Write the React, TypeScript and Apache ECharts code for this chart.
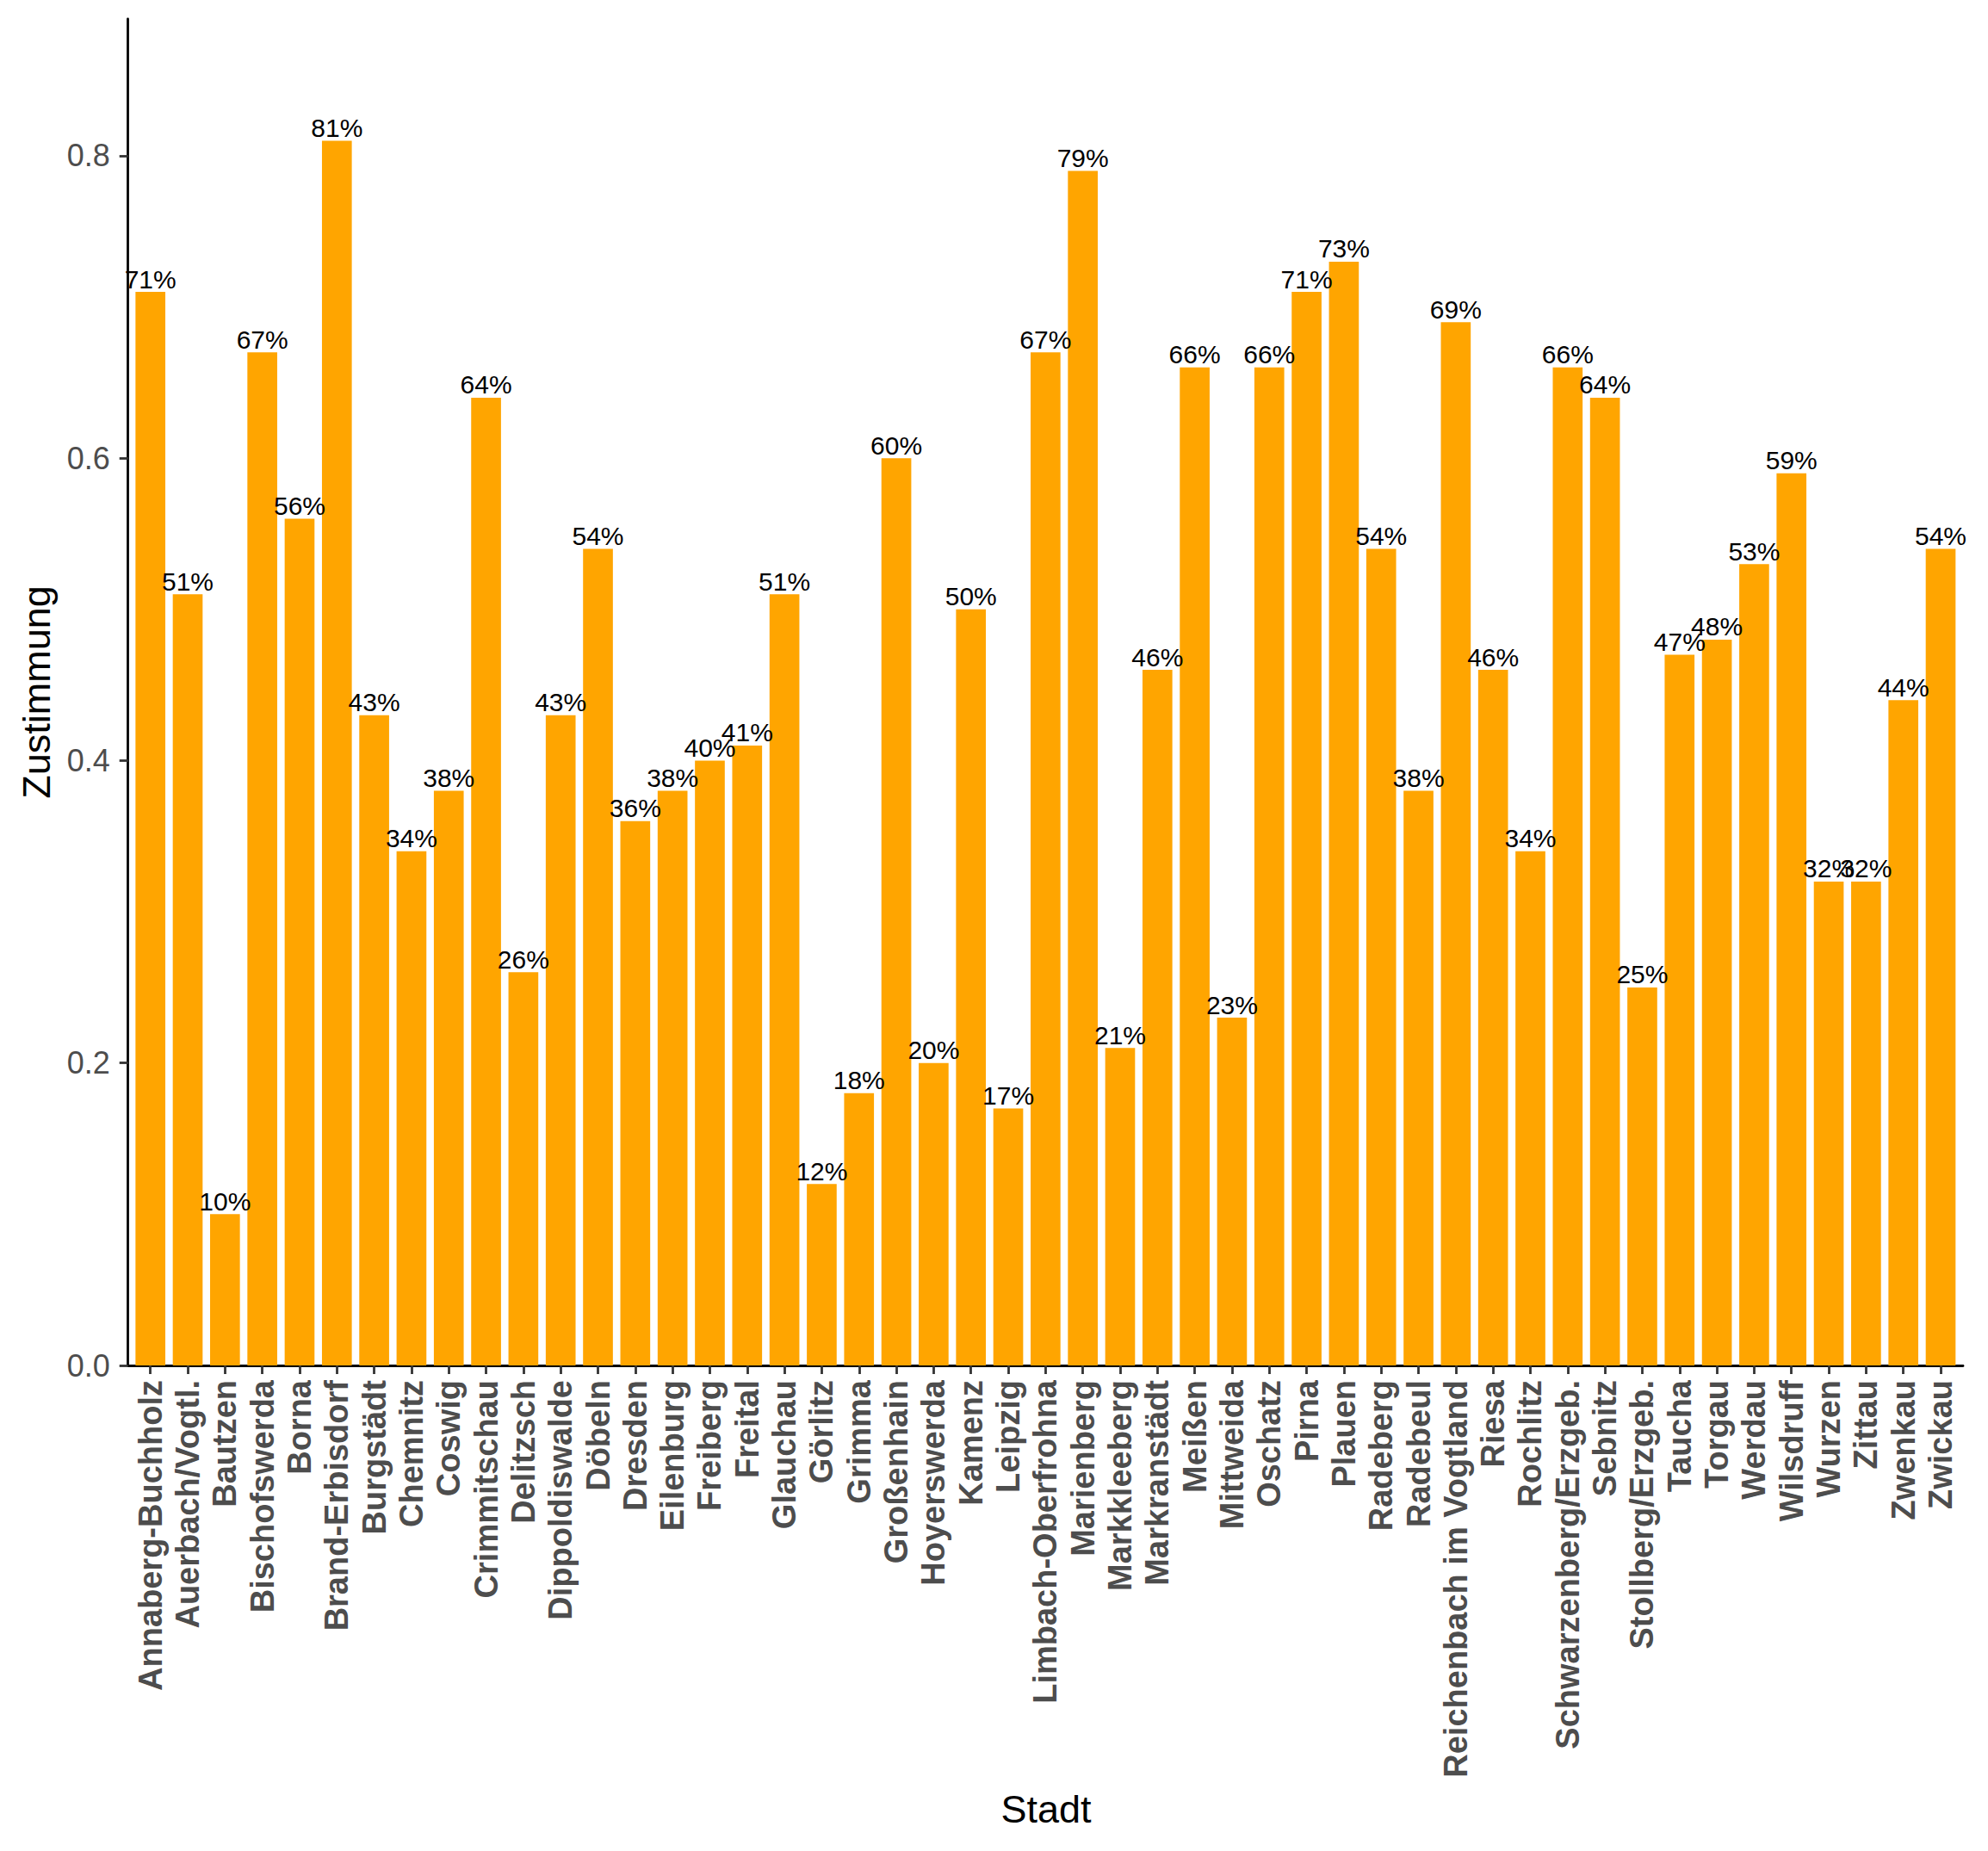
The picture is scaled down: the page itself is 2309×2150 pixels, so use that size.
import React, { useEffect, useRef } from "react";
import * as echarts from "echarts";

const cities: string[] = [
  "Annaberg-Buchholz", "Auerbach/Vogtl.", "Bautzen", "Bischofswerda", "Borna",
  "Brand-Erbisdorf", "Burgstädt", "Chemnitz", "Coswig", "Crimmitschau",
  "Delitzsch", "Dippoldiswalde", "Döbeln", "Dresden", "Eilenburg",
  "Freiberg", "Freital", "Glauchau", "Görlitz", "Grimma",
  "Großenhain", "Hoyerswerda", "Kamenz", "Leipzig", "Limbach-Oberfrohna",
  "Marienberg", "Markkleeberg", "Markranstädt", "Meißen", "Mittweida",
  "Oschatz", "Pirna", "Plauen", "Radeberg", "Radebeul",
  "Reichenbach im Vogtland", "Riesa", "Rochlitz", "Schwarzenberg/Erzgeb.", "Sebnitz",
  "Stollberg/Erzgeb.", "Taucha", "Torgau", "Werdau", "Wilsdruff",
  "Wurzen", "Zittau", "Zwenkau", "Zwickau",
];

const zustimmungPct: number[] = [
  71, 51, 10, 67, 56,
  81, 43, 34, 38, 64,
  26, 43, 54, 36, 38,
  40, 41, 51, 12, 18,
  60, 20, 50, 17, 67,
  79, 21, 46, 66, 23,
  66, 71, 73, 54, 38,
  69, 46, 34, 66, 64,
  25, 47, 48, 53, 59,
  32, 32, 44, 54,
];

const yTicks: number[] = [0, 0.2, 0.4, 0.6, 0.8];
const yMax = 0.8905;

const FONT = "'Liberation Sans', Arial, sans-serif";

export default function App() {
  const ref = useRef<HTMLDivElement>(null);

  useEffect(() => {
    document.body.style.margin = "0";
    if (!ref.current) return;
    const chart = echarts.init(ref.current, null, { renderer: "svg" });
    const positions = cities.map((_, i) => i + 1);
    const option: any = {
      animation: false,
      backgroundColor: "#ffffff",
      textStyle: { fontFamily: FONT },
      grid: { left: 148.7, top: 22, right: 29, bottom: 564, containLabel: false },
      xAxis: {
        type: "value",
        min: 0.4,
        max: cities.length + 0.6,
        splitLine: { show: false },
        axisLine: { show: true, onZero: false, lineStyle: { color: "#000000", width: 2.8 } },
        axisTick: {
          show: true,
          customValues: positions,
          length: 10,
          lineStyle: { color: "#333333", width: 2.8 },
        },
        axisLabel: {
          show: true,
          customValues: positions,
          rotate: 90,
          margin: 17,
          fontSize: 38,
          fontWeight: "bold",
          color: "#4D4D4D",
          fontFamily: FONT,
          formatter: (v: number) => cities[Math.round(v) - 1] ?? "",
        },
      },
      yAxis: {
        type: "value",
        min: 0,
        max: yMax,
        splitLine: { show: false },
        axisLine: { show: true, lineStyle: { color: "#000000", width: 2.8 } },
        axisTick: {
          show: true,
          customValues: yTicks,
          length: 10,
          lineStyle: { color: "#333333", width: 2.8 },
        },
        axisLabel: {
          show: true,
          customValues: yTicks,
          margin: 21,
          fontSize: 36,
          color: "#4D4D4D",
          fontFamily: FONT,
          formatter: (v: number) => v.toFixed(1),
        },
      },
      series: [
        {
          type: "bar",
          barWidth: "80%",
          data: zustimmungPct.map((v, i) => [i + 1, v / 100]),
          itemStyle: { color: "#FFA500" },
          label: {
            show: true,
            position: "top",
            distance: 0,
            fontSize: 30,
            color: "#000000",
            fontFamily: FONT,
            formatter: (p: any) => Math.round(p.value[1] * 100) + "%",
          },
        },
      ],
      graphic: [
        {
          type: "text",
          x: 42,
          y: 804,
          rotation: Math.PI / 2,
          style: {
            text: "Zustimmung",
            fontSize: 45,
            fontFamily: FONT,
            fill: "#000000",
            align: "center",
            verticalAlign: "middle",
          },
        },
        {
          type: "text",
          x: 1215,
          y: 2101,
          style: {
            text: "Stadt",
            fontSize: 45,
            fontFamily: FONT,
            fill: "#000000",
            align: "center",
            verticalAlign: "middle",
          },
        },
      ],
    };
    chart.setOption(option);
    return () => chart.dispose();
  }, []);

  return <div ref={ref} style={{ width: 2309, height: 2150 }} />;
}
